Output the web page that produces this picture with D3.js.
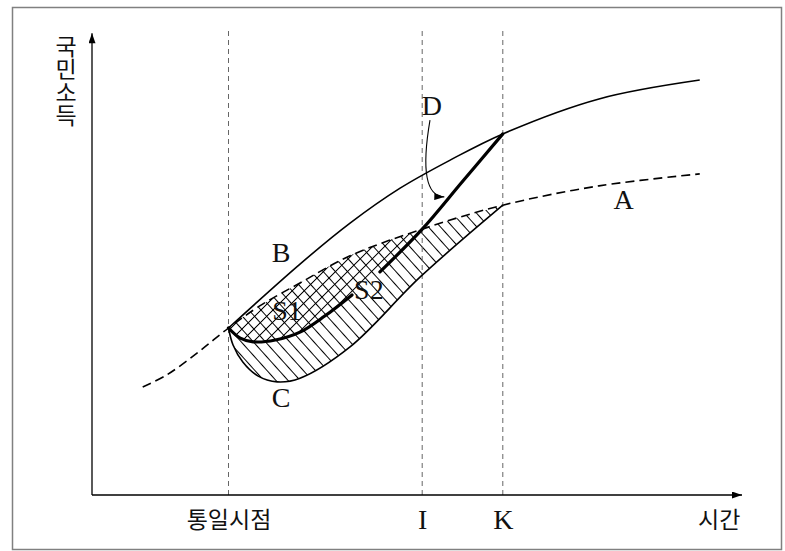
<!DOCTYPE html>
<html>
<head>
<meta charset="utf-8">
<script src="https://cdn.jsdelivr.net/npm/d3@7"></script>
<style>
  body { margin: 0; background: #fff; }
</style>
</head>
<body>
<svg id="chart"></svg>
<script>
const width = 785, height = 551;

// time markers on the x axis and their labels
const markers = [2.1, 5.08, 6.32];
const markerLabels = ["통일시점", "I", "K"];
const yAxisLabel = "국민소득";
const xAxisLabel = "시간";

// curves, as [time, income]
const curveA = [[0.78, 2.35], [1.15, 2.61], [1.62, 3.09], [2.1, 3.63], [2.58, 4.11], [3.2, 4.61],
                [3.97, 5.2], [5.08, 5.78], [6.32, 6.3], [7.8, 6.72], [9.35, 6.98]];
const curveB = [[2.1, 3.63], [3.2, 5.02], [3.97, 5.91], [4.74, 6.67], [5.51, 7.28],
                [6.32, 7.85], [7.8, 8.61], [9.35, 9.02]];
const curveC = [[2.1, 3.63], [2.17, 3.26], [2.32, 2.89], [2.55, 2.59], [2.85, 2.46], [3.2, 2.54],
                [3.97, 3.22], [5.05, 4.74], [6.32, 6.3]];
// null = gap where the S2 label sits
const curveD = [[2.1, 3.63], [2.28, 3.41], [2.48, 3.33], [2.82, 3.37], [3.2, 3.54], [3.58, 3.89],
                [4.0, 4.35], null, [4.43, 4.85], [5.08, 5.78], [5.69, 6.8], [6.32, 7.85]];

// curve labels
const labels = [
  { text: "A", t: 8.18, v: 6.41 },
  { text: "B", t: 2.91, v: 5.26 },
  { text: "C", t: 2.91, v: 2.11 },
  { text: "D", t: 5.23, v: 8.46 },
  { text: "S1", t: 3.0, v: 4.0 },
  { text: "S2", t: 4.26, v: 4.46 }
];
// pointer from the D label down to curve D: start, control, end
const pointerD = [[5.2, 8.15], [5.0, 6.5], [5.42, 6.48]];

const svg = d3.select("#chart")
    .attr("width", width)
    .attr("height", height)
    .style("background", "#fff");

const x = d3.scaleLinear().domain([0, 10]).range([92, 742]);
const y = d3.scaleLinear().domain([0, 10]).range([495, 35]);

const defs = svg.append("defs");

// hatch patterns
function hatch(id, angle, gap) {
    defs.append("pattern")
        .attr("id", id)
        .attr("patternUnits", "userSpaceOnUse")
        .attr("width", gap)
        .attr("height", gap)
        .attr("patternTransform", `rotate(${angle})`)
      .append("line")
        .attr("x1", gap / 2).attr("y1", 0)
        .attr("x2", gap / 2).attr("y2", gap)
        .attr("stroke", "#000")
        .attr("stroke-width", 1);
}
hatch("back", -42, 9);   // "\"
hatch("fwd", 45, 8.5);   // "/"

// arrow heads
defs.append("marker")
    .attr("id", "arrow")
    .attr("viewBox", "0 0 10 7")
    .attr("refX", 10).attr("refY", 3.5)
    .attr("markerUnits", "userSpaceOnUse")
    .attr("markerWidth", 11).attr("markerHeight", 7)
    .attr("orient", "auto")
  .append("path")
    .attr("d", "M0,0 L10,3.5 L0,7 Z")
    .attr("fill", "#000");

// frame
svg.append("rect")
    .attr("x", 12.5).attr("y", 7.5)
    .attr("width", 769).attr("height", 542)
    .attr("fill", "none")
    .attr("stroke", "#808080")
    .attr("stroke-width", 1.5);

const line = d3.line()
    .defined(d => d)
    .x(d => x(d[0]))
    .y(d => y(d[1]))
    .curve(d3.curveCatmullRom.alpha(0.5));

// closed region between an upper and a lower curve
function band(upper, lower) {
    return line(upper) + line(lower.slice().reverse()).replace(/^M/, "L") + "Z";
}

const dSolid = curveD.filter(d => d);
const aBetween = (t0, t1) => curveA.filter(d => d[0] >= t0 - 1e-9 && d[0] <= t1 + 1e-9);

// S1 + S2 region: A over C
svg.append("path")
    .attr("d", band(aBetween(markers[0], markers[2]), curveC))
    .attr("fill", "url(#back)");

// S1 region: A over D, cross hatched
svg.append("path")
    .attr("d", band(aBetween(markers[0], markers[1]), dSolid.filter(d => d[0] <= markers[1])))
    .attr("fill", "url(#fwd)");

// dashed guides at the markers
svg.selectAll(".guide")
    .data(markers)
    .enter().append("line")
    .attr("class", "guide")
    .attr("x1", d => x(d)).attr("x2", d => x(d))
    .attr("y1", y(0)).attr("y2", y(10.11))
    .attr("stroke", "#666")
    .attr("stroke-width", 1)
    .attr("stroke-dasharray", "5,4");

// curves
svg.append("path")
    .attr("d", line(curveA))
    .attr("fill", "none")
    .attr("stroke", "#000")
    .attr("stroke-width", 1.6)
    .attr("stroke-dasharray", "9,5");

svg.append("path")
    .attr("d", line(curveB))
    .attr("fill", "none")
    .attr("stroke", "#000")
    .attr("stroke-width", 1.6);

svg.append("path")
    .attr("d", line(curveC))
    .attr("fill", "none")
    .attr("stroke", "#000")
    .attr("stroke-width", 1.6);

svg.append("path")
    .attr("d", line(curveD))
    .attr("fill", "none")
    .attr("stroke", "#000")
    .attr("stroke-width", 3.2)
    .attr("stroke-linecap", "round");

// pointer from D label
svg.append("path")
    .attr("d", `M${x(pointerD[0][0])},${y(pointerD[0][1])} Q${x(pointerD[1][0])},${y(pointerD[1][1])} ${x(pointerD[2][0])},${y(pointerD[2][1])}`)
    .attr("fill", "none")
    .attr("stroke", "#000")
    .attr("stroke-width", 1.1)
    .attr("marker-end", "url(#arrow)");

// axes
const xAxis = svg.append("g")
    .attr("transform", `translate(0, ${y(0)})`)
    .call(d3.axisBottom(x)
        .tickValues(markers)
        .tickSize(0)
        .tickSizeOuter(0)
        .tickPadding(14)
        .tickFormat((d, i) => markerLabels[i]));
xAxis.select(".domain").remove();
xAxis.selectAll("text")
    .attr("fill", "#111")
    .style("font-family", (d, i) => i === 0 ? "'Noto Sans CJK KR', sans-serif" : "'Liberation Serif', serif")
    .style("font-size", (d, i) => i === 0 ? "23px" : "28px")
    .attr("dy", (d, i) => i === 0 ? "0.82em" : "0.71em");

svg.append("line")
    .attr("x1", x(0)).attr("y1", y(0))
    .attr("x2", x(10)).attr("y2", y(0))
    .attr("stroke", "#000")
    .attr("stroke-width", 1.3)
    .attr("marker-end", "url(#arrow)");

svg.append("line")
    .attr("x1", x(0)).attr("y1", y(0))
    .attr("x2", x(0)).attr("y2", y(10.04))
    .attr("stroke", "#000")
    .attr("stroke-width", 1.3)
    .attr("marker-end", "url(#arrow)");

// axis titles
svg.append("text")
    .attr("x", x(9.65))
    .attr("y", y(0) + 33)
    .attr("text-anchor", "middle")
    .style("font-family", "'Noto Sans CJK KR', sans-serif")
    .style("font-size", "23px")
    .attr("fill", "#111")
    .text(xAxisLabel);

svg.append("text")
    .attr("x", 66)
    .attr("y", 35)
    .style("writing-mode", "vertical-rl")
    .style("text-orientation", "upright")
    .style("font-family", "'Noto Sans CJK KR', sans-serif")
    .style("font-size", "23px")
    .attr("fill", "#111")
    .text(yAxisLabel);

// curve labels
svg.selectAll(".curve-label")
    .data(labels)
    .enter().append("text")
    .attr("class", "curve-label")
    .attr("x", d => x(d.t))
    .attr("y", d => y(d.v))
    .attr("dy", "0.33em")
    .attr("text-anchor", "middle")
    .style("font-family", "'Liberation Serif', serif")
    .style("font-size", "28px")
    .attr("fill", "#111")
    .text(d => d.text);
</script>
</body>
</html>
